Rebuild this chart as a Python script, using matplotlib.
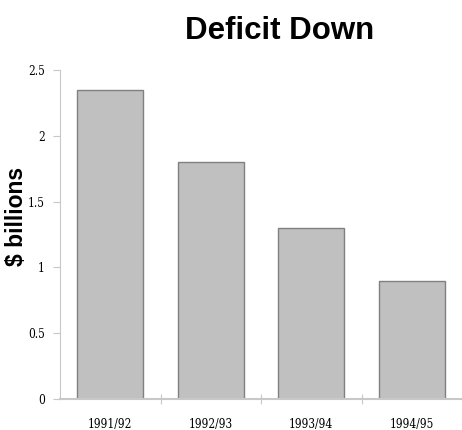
import matplotlib.pyplot as plt

years = ["1991/92", "1992/93", "1993/94", "1994/95"]
deficit = [2.35, 1.8, 1.3, 0.9]   # $ billions
y_ticks = [0, 0.5, 1, 1.5, 2, 2.5]
y_labels = ["0", "0.5", "1", "1.5", "2", "2.5"]

axis_gray = "#c8c8c8"
tick_font = dict(family="DejaVu Serif", stretch="condensed", size=8.5)

fig = plt.figure(figsize=(4.62, 4.30), dpi=100)
ax = fig.add_axes([60/462, 1 - 399/430, 402/462, 329/430])

x = range(len(years))
ax.bar(x, deficit, width=0.66, color="#c0c0c0", edgecolor="#808080", linewidth=1)

ax.set_xlim(-0.5, len(years) - 0.5)
ax.set_ylim(0, 2.5)

# y ticks on the left spine
ax.set_yticks(y_ticks)
ax.set_yticklabels(y_labels, **tick_font)
ax.tick_params(axis="y", length=5, color=axis_gray, pad=6)

# x ticks sit between categories, labels centred under bars
ax.set_xticks([i + 0.5 for i in range(len(years) - 1)])
ax.set_xticklabels([])
ax.set_xticks(list(x), minor=True)
ax.set_xticklabels(years, minor=True, **tick_font)
ax.tick_params(axis="x", which="major", length=7, direction="inout", color=axis_gray)
ax.tick_params(axis="x", which="minor", length=0, pad=14)

for side in ["top", "right"]:
    ax.spines[side].set_visible(False)
ax.spines["left"].set_color(axis_gray)
ax.spines["bottom"].set_color(axis_gray)
ax.spines["bottom"].set_linewidth(1.5)

fig.text(280/462, 1 - 31/430, "Deficit Down", ha="center", va="center",
         family="Liberation Sans", weight="bold", size=22.5)
fig.text(17/462, 1 - 216/430, "$ billions", ha="center", va="center", rotation=90,
         family="Liberation Sans", weight="bold", size=16.5)

fig.savefig("out.png", dpi=100)
